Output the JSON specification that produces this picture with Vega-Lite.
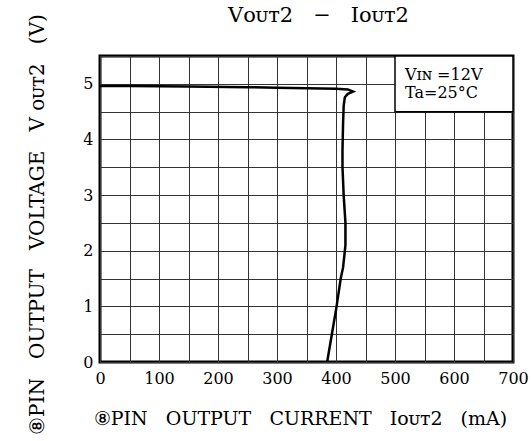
{
  "$schema": "https://vega.github.io/schema/vega-lite/v6.json",
  "width": 413,
  "height": 306,
  "autosize": "none",
  "padding": {"left": 100, "top": 56, "right": 18, "bottom": 79},
  "background": "white",
  "title": {"text": "Vᴏᴜᴛ2\u00a0\u00a0\u00a0−\u00a0\u00a0\u00a0Iᴏᴜᴛ2", "font": "DejaVu Serif", "fontSize": 21, "fontWeight": "normal", "color": "black", "offset": 0, "dy": 12, "dx": 12},
  "config": {
    "view": {"stroke": "black", "strokeWidth": 3},
    "axis": {"domain": false, "ticks": false, "grid": true, "gridColor": "#333", "gridWidth": 1, "gridOpacity": 1, "labelFont": "DejaVu Serif", "labelFontSize": 16, "labelColor": "black", "titleFont": "DejaVu Serif", "titleFontWeight": "normal", "titleColor": "black", "titleFontSize": 16, "labelFlush": false, "labelOverlap": false}
  },
  "datasets": {
    "curve": [
      {"i": 0, "current": 0, "voltage": 4.96},
      {"i": 1, "current": 50, "voltage": 4.96},
      {"i": 2, "current": 150, "voltage": 4.95},
      {"i": 3, "current": 250, "voltage": 4.94},
      {"i": 4, "current": 300, "voltage": 4.93},
      {"i": 5, "current": 350, "voltage": 4.92},
      {"i": 6, "current": 400, "voltage": 4.91},
      {"i": 7, "current": 420, "voltage": 4.9},
      {"i": 8, "current": 429, "voltage": 4.86},
      {"i": 9, "current": 420, "voltage": 4.82},
      {"i": 10, "current": 415, "voltage": 4.76},
      {"i": 11, "current": 413, "voltage": 4.6},
      {"i": 12, "current": 412, "voltage": 4.3},
      {"i": 13, "current": 411, "voltage": 3.8},
      {"i": 14, "current": 411, "voltage": 3.5},
      {"i": 15, "current": 413, "voltage": 3.0},
      {"i": 16, "current": 416, "voltage": 2.5},
      {"i": 17, "current": 416, "voltage": 2.1},
      {"i": 18, "current": 412, "voltage": 1.7},
      {"i": 19, "current": 408, "voltage": 1.5},
      {"i": 20, "current": 401, "voltage": 1.0},
      {"i": 21, "current": 393, "voltage": 0.5},
      {"i": 22, "current": 385, "voltage": 0.0}
    ],
    "box": [{"x1": 500, "x2": 700, "y1": 4.5, "y2": 5.5}],
    "notes": [
      {"x": 517, "y": 5.15, "label": "Vɪɴ\u00a0=12V"},
      {"x": 517, "y": 4.84, "label": "Ta=25°C"}
    ]
  },
  "encoding": {
    "x": {"type": "quantitative", "scale": {"domain": [0, 700], "nice": false},
      "axis": {"grid": true, "values": [0,50,100,150,200,250,300,350,400,450,500,550,600,650,700], "labelExpr": "datum.value % 100 === 0 ? datum.label : ''", "labelPadding": 8,
        "title": "⑧PIN\u00a0\u00a0\u00a0OUTPUT\u00a0\u00a0\u00a0CURRENT\u00a0\u00a0\u00a0Iᴏᴜᴛ2\u00a0\u00a0\u00a0(mA)", "titleFontSize": 19, "titleX": 200, "titleY": 56, "titleBaseline": "middle", "titleAnchor": "middle"}},
    "y": {"type": "quantitative", "scale": {"domain": [0, 5.5], "nice": false},
      "axis": {"grid": true, "values": [0,0.5,1,1.5,2,2.5,3,3.5,4,4.5,5,5.5], "labelExpr": "datum.value % 1 === 0 ? format(datum.value, 'd') : ''", "labelPadding": 7,
        "title": "⑧PIN\u00a0\u00a0\u00a0OUTPUT\u00a0\u00a0\u00a0VOLTAGE\u00a0\u00a0\u00a0V\u00a0ᴏᴜᴛ2\u00a0\u00a0\u00a0(V)", "titleFontSize": 20, "titleX": -63, "titleY": 168, "titleAngle": -90, "titleBaseline": "middle", "titleAnchor": "middle"}}
  },
  "layer": [
    {
      "data": {"name": "curve"},
      "mark": {"type": "line", "color": "black", "strokeWidth": 2.5, "clip": true},
      "encoding": {
        "x": {"field": "current"},
        "y": {"field": "voltage"},
        "order": {"field": "i", "type": "quantitative"}
      }
    },
    {
      "data": {"name": "box"},
      "mark": {"type": "rect", "fill": "white", "stroke": "black", "strokeWidth": 1.5},
      "encoding": {
        "x": {"field": "x1"},
        "x2": {"field": "x2"},
        "y": {"field": "y1"},
        "y2": {"field": "y2"}
      }
    },
    {
      "data": {"name": "notes"},
      "mark": {"type": "text", "align": "left", "baseline": "middle", "font": "DejaVu Serif", "fontSize": 16, "color": "black"},
      "encoding": {
        "x": {"field": "x"},
        "y": {"field": "y"},
        "text": {"field": "label"}
      }
    }
  ]
}
